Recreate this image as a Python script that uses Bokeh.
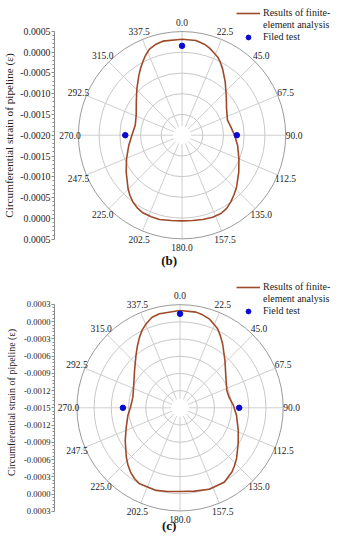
import numpy as np
from bokeh.plotting import figure
from bokeh.models import (LinearAxis, FixedTicker, CustomJSTickFormatter, Label,
                          Legend, LegendItem, Range1d)
from bokeh.layouts import column
from bokeh.embed import file_html
from bokeh.resources import INLINE
from bokeh.core.properties import value

# ---------------- data ----------------
angle_ticks = [0, 22.5, 45, 67.5, 90, 112.5, 135, 157.5, 180,
               202.5, 225, 247.5, 270, 292.5, 315, 337.5]
angle_labels = ["0.0", "22.5", "45.0", "67.5", "90.0", "112.5", "135.0", "157.5",
                "180.0", "202.5", "225.0", "247.5", "270.0", "292.5", "315.0", "337.5"]

# chart (b)
b_fe_angle = [0, 8.4, 13.8, 17.4, 21.0, 24.5, 27.6, 31.4, 39.1, 48, 59.2, 71.8, 80.3, 90,
              100.2, 112.3, 122.7, 133.4, 138.6, 143.7, 148.7, 153.5, 159.5, 166.2, 172.9,
              180, 187.3, 195, 200.8, 206.9, 211.2, 216.5, 221.1, 225.5, 236.8, 247.3, 259.4,
              270, 282, 293.5, 305.9, 315.8, 324.2, 328, 331.8, 335.4, 339.2, 343.6, 348.4,
              360]
b_fe_strain = [0.000308, 0.000300, 0.000252, 0.000200, 0.000128, 0.000067, -0.000013,
               -0.000125, -0.000349, -0.000566, -0.000750, -0.000846, -0.000806, -0.000734,
               -0.000638, -0.000518, -0.000373, -0.000189, -0.000101, -0.000013, 0.000064,
               0.000103, 0.000104, 0.000087, 0.000067, 0.000059, 0.000067, 0.000099,
               0.000099, 0.000091, 0.000059, -0.000005, -0.000086, -0.000173, -0.000389,
               -0.000550, -0.000694, -0.000790, -0.000846, -0.000794, -0.000638, -0.000437,
               -0.000221, -0.000111, 0.000003, 0.000115, 0.000212, 0.000272, 0.000308,
               0.000308]
b_test_angle = [0, 90, 270]
b_test_strain = [0.000148, -0.000678, -0.000630]
b_rmin, b_rmax, b_rstep = -0.0020, 0.0005, 0.0005

# chart (c)
c_fe_angle = [0, 9.5, 13.7, 18.2, 21.8, 25.5, 29.1, 33.7, 43.6, 56.3, 69.8, 77.8, 87.5,
              97.7, 111.2, 121.7, 132, 136.7, 141, 149.2, 160.2, 170.2, 180, 188.4, 196.2,
              208.1, 212.7, 217.7, 222.6, 227.6, 239.3, 250.3, 261.7, 270.8, 282.7, 293.9,
              309.3, 320.8, 325.6, 330.1, 334, 338, 342.8, 347.6, 360]
c_fe_strain = [0.000193, 0.000187, 0.000164, 0.000129, 0.000074, 0.000022, -0.000059,
               -0.000161, -0.000364, -0.000538, -0.000630, -0.000625, -0.000567, -0.000506,
               -0.000410, -0.000308, -0.000174, -0.000115, -0.000062, 0.000007, 0.000007,
               -0.000029, -0.000045, -0.000029, -0.000004, -0.000001, -0.000033, -0.000087,
               -0.000155, -0.000230, -0.000387, -0.000503, -0.000580, -0.000636, -0.000656,
               -0.000613, -0.000474, -0.000288, -0.000186, -0.000082, 0.000007, 0.000077,
               0.000150, 0.000174, 0.000193]
c_test_angle = [0, 90, 270]
c_test_strain = [0.000135, -0.000468, -0.000503]
c_rmin, c_rmax, c_rstep = -0.0015, 0.0003, 0.0003

FONT = "Liberation Serif"
FE_COLOR = "#9E4A2A"
DOT_COLOR = "#0A0AD2"
LEFT = 53


def make_chart(W, H, cx, cy, R, rmin, rmax, rstep, fe_a, fe_s, t_a, t_s,
               test_label, title, title_y, tick_fs, axlab_fs, axlab_standoff, leg_x, leg_top):
    k = R / (rmax - rmin)           # px per strain unit
    p = figure(width=W, height=H, output_backend="svg", toolbar_location=None,
               x_range=Range1d(-(cx - LEFT) / k, (W - cx) / k),
               y_range=Range1d(-(H - cy) / k, cy / k),
               x_axis_location=None, y_axis_location=None,
               min_border=0, min_border_left=LEFT, outline_line_color=None,
               background_fill_color="white")
    p.grid.visible = False
    Rs = rmax - rmin

    # spokes
    th = np.radians(angle_ticks)
    r0 = 9 / k
    p.segment(x0=r0 * np.sin(th), y0=r0 * np.cos(th), x1=Rs * np.sin(th), y1=Rs * np.cos(th),
              line_color="#cfcfcf", line_width=1)
    # circles
    n = int(round(Rs / rstep))
    radii = [i * rstep for i in range(1, n)]
    p.circle(x=[0] * len(radii), y=[0] * len(radii), radius=radii, fill_color=None,
             line_color="#c8c8c8", line_width=1)
    p.circle(x=[0], y=[0], radius=[Rs], fill_color=None, line_color="#9a9a9a", line_width=1)

    # angle labels
    rl = (R + 8.5) / k
    p.text(x=rl * np.sin(th), y=rl * np.cos(th), text=angle_labels,
           text_align="center", text_baseline="middle", text_font=value(FONT),
           text_font_size="9.5px", text_color="#222222")

    # FE curve
    a = np.radians(fe_a)
    ro = np.array(fe_s) - rmin
    fe = p.line(x=ro * np.sin(a), y=ro * np.cos(a), line_color=FE_COLOR, line_width=1.6,
                line_join="round")
    # tests
    a2 = np.radians(t_a)
    ro2 = np.array(t_s) - rmin
    dots = p.scatter(x=ro2 * np.sin(a2), y=ro2 * np.cos(a2), size=5.5,
                     fill_color=DOT_COLOR, line_color=DOT_COLOR)
    dummy = p.scatter(x=[], y=[], alpha=0)

    # radial axis (left)
    major = [i * rstep for i in range(-n, n + 1)]
    minor = [(i + j / 5) * rstep for i in range(-n, n) for j in range(1, 5)]
    ax = LinearAxis(bounds=(-Rs, Rs),
                    ticker=FixedTicker(ticks=major, minor_ticks=minor),
                    formatter=CustomJSTickFormatter(args=dict(rmin=rmin), code="""
                        let v = Math.round((Math.abs(tick) + rmin) * 1e4) / 1e4;
                        return v.toFixed(4);"""),
                    axis_label="Circumferential strain of pipeline (ε)",
                    axis_label_text_font=FONT, axis_label_text_font_style="normal",
                    axis_label_text_font_size=axlab_fs, axis_label_text_color="#222222",
                    axis_label_standoff=axlab_standoff,
                    axis_line_color="#8a8a8a", major_tick_line_color="#8a8a8a",
                    minor_tick_line_color="#8a8a8a", major_tick_out=3, major_tick_in=0,
                    minor_tick_out=2, minor_tick_in=0, major_label_standoff=1,
                    major_label_text_font=FONT, major_label_text_font_size=tick_fs,
                    major_label_text_color="#222222")
    p.add_layout(ax, "left")

    # panel title
    p.add_layout(Label(x=(168 - cx) / k, y=(cy - title_y) / k, text=title,
                       text_align="center", text_baseline="middle", text_font=FONT,
                       text_font_style="bold", text_font_size="13px", text_color="#111111"))

    # legend
    items = [LegendItem(label="Results of finite-", renderers=[fe]),
             LegendItem(label="element analysis", renderers=[dummy]),
             LegendItem(label=test_label, renderers=[dots])]
    leg_h = 3 * 12.5
    legend = Legend(items=items, location=(leg_x - LEFT, H - leg_top - leg_h),
                    label_text_font=FONT, label_text_font_size="10px",
                    label_text_color="#222222", glyph_width=24, glyph_height=12,
                    label_height=12, label_standoff=3, spacing=0, padding=0, margin=0,
                    border_line_color=None, background_fill_alpha=0)
    p.add_layout(legend)
    return p


W = 333
p1 = make_chart(W, 270, 181, 134.7, 104, b_rmin, b_rmax, b_rstep, b_fe_angle, b_fe_strain,
                b_test_angle, b_test_strain, "Filed test", "(b)", 260, "9.8px", "11.2px", 2,
                235, 5)
p2 = make_chart(W, 264, 179, 137.3, 103.5, c_rmin, c_rmax, c_rstep, c_fe_angle, c_fe_strain,
                c_test_angle, c_test_strain, "Field test", "(c)", 255, "8.6px", "10px", 4,
                235, 9)

layout = column(p1, p2, spacing=0)
open("out.html", "w").write(file_html(layout, INLINE))
